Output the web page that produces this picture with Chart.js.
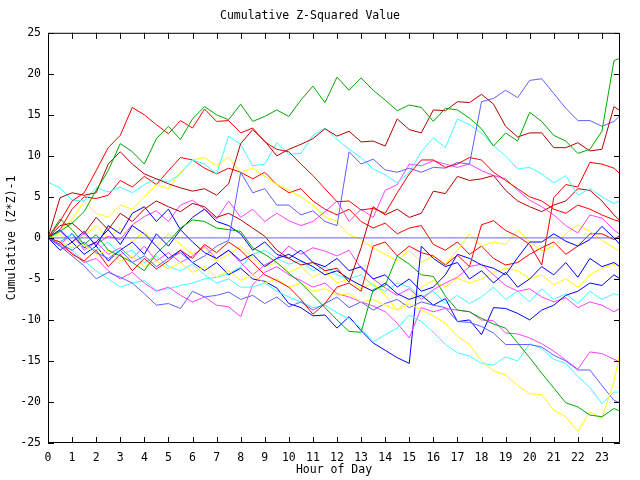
<!DOCTYPE html>
<html lang="en">
<head>
<meta charset="UTF-8">
<title>Cumulative Z-Squared Value</title>
<script src="https://cdn.jsdelivr.net/npm/chart.js"></script>
<style>
  html, body { margin: 0; padding: 0; background: #fff; }
  canvas { display: block; }
</style>
</head>
<body>
<canvas id="zChart" width="640" height="480"></canvas>
<script>
// sample times in hours (half-hour steps, last sample 23:45)
const hours = [0,0.5,1,1.5,2,2.5,3,3.5,4,4.5,5,5.5,6,6.5,7,7.5,8,8.5,9,9.5,10,10.5,11,11.5,12,12.5,13,13.5,14,14.5,15,15.5,16,16.5,17,17.5,18,18.5,19,19.5,20,20.5,21,21.5,22,22.5,23,23.5,23.75];

const hourTicks = [0,1,2,3,4,5,6,7,8,9,10,11,12,13,14,15,16,17,18,19,20,21,22,23];
const valueTicks = [-25,-20,-15,-10,-5,0,5,10,15,20,25];

// cumulative (z*z)-1 per series
const zeroLine    = [0,0,0,0,0,0,0,0,0,0,0,0,0,0,0,0,0,0,0,0,0,0,0,0,0,0,0,0,0,0,0,0,0,0,0,0,0,0,0,0,0,0,0,0,0,0,0,0,0];
const greenTop    = [0,0.8,1.8,3.2,5.8,8.2,11.5,10.5,9.0,12.1,13.6,12.0,14.5,16.0,15.0,14.4,16.3,14.2,14.8,15.6,14.8,16.8,18.5,16.5,19.6,18.0,19.5,18.0,16.8,15.5,16.2,15.9,14.2,15.8,15.6,14.6,13.3,11.2,12.8,11.8,15.3,14.2,12.5,11.8,10.3,10.8,13.0,21.6,21.9];
const redUpper    = [0,2.0,4.5,5.5,8.2,11.0,12.5,15.9,15.0,13.8,12.7,14.3,13.4,15.7,14.2,14.3,12.8,13.4,11.7,10.8,10.5,9.0,7.6,6.0,4.4,4.5,3.4,3.6,3.0,5.5,7.8,9.5,9.5,8.6,9.0,9.8,9.5,8.0,7.0,6.0,5.0,4.5,3.5,3.0,4.0,3.5,2.8,2.2,2.0];
const darkRedTop  = [0,4.9,5.5,5.2,5.5,9.0,10.5,9.0,7.8,7.2,6.6,6.1,5.7,6.0,5.2,6.6,11.5,13.2,11.8,10.0,10.8,11.4,12.1,13.3,12.4,13.0,11.7,11.8,11.2,14.5,13.2,12.8,15.6,15.5,16.6,16.5,17.5,16.3,13.6,12.3,12.8,12.8,11.0,11.0,11.6,10.6,10.8,16.0,15.5];
const blueTop     = [0,-0.8,-1.5,-0.5,-1.8,-2.5,-1.5,-3.0,-2.2,-3.5,-2.5,-1.8,-3.0,-2.2,-1.0,-0.3,8.0,5.5,6.0,4.0,4.0,2.8,3.3,2.0,1.5,10.5,9.0,9.6,8.3,8.0,8.5,8.0,8.6,8.5,9.2,9.0,16.6,17.0,18.0,17.1,19.2,19.4,17.6,15.8,14.3,14.3,13.6,14.2,14.9];
const cyanTop     = [6.8,6.1,4.6,4.5,6.1,5.6,6.2,5.5,6.5,7.2,6.8,7.8,9.5,9.0,7.8,12.4,11.4,8.8,9.0,11.6,10.2,10.3,12.5,13.4,12.0,10.8,9.8,8.4,7.7,6.7,8.0,10.5,12.2,11.0,14.5,13.8,12.8,11.2,10.0,8.4,8.6,7.8,6.7,7.6,5.2,6.0,5.0,4.2,4.5];
const redMid      = [0,-0.5,-2.0,-2.8,-1.5,-3.5,-2.0,-4.0,-2.5,-3.8,-2.8,-1.5,-2.5,-0.8,-1.8,-0.5,-1.5,-3.0,-4.5,-5.2,-6.0,-7.5,-9.3,-8.0,-6.0,-5.5,-6.5,-1.0,-0.5,-2.2,-1.0,-1.8,-2.2,-3.3,-2.1,-3.5,1.6,2.1,0.9,0.2,-0.8,-3.3,4.9,6.5,6.2,9.2,9.0,8.5,7.8];
const darkRedMid  = [0,1.5,1.8,0.5,2.5,1.0,3.0,2.0,3.5,4.5,3.8,3.2,4.2,3.8,2.5,3.0,2.2,1.2,0.2,-1.5,-2.5,-3.3,-3.0,-4.0,-3.7,-5.4,-1.2,3.8,2.8,3.5,2.5,3.0,5.7,5.4,7.5,7.0,7.2,7.6,5.8,4.5,3.8,3.2,4.0,4.5,6.0,5.8,4.5,2.8,2.1];
const greenLow    = [0,2.3,1.0,-0.8,0.4,-1.5,-2.2,-3.0,-4.0,-1.9,-0.5,1.2,2.2,2.0,1.2,1.0,0.8,-1.2,-2.0,-3.0,-4.3,-5.5,-7.0,-8.5,-10.0,-11.4,-11.5,-6.3,-5.8,-2.2,-3.2,-4.5,-4.7,-7.1,-8.8,-9.0,-9.8,-10.5,-11.0,-12.8,-14.6,-16.5,-18.3,-20.1,-20.6,-21.6,-21.8,-20.8,-21.1];
const yellowLow   = [0,-0.5,-1.2,-0.8,-2.0,-1.5,-2.8,-2.2,-3.5,-2.8,-3.8,-3.0,-4.2,-3.5,-4.8,-4.0,-5.2,-4.5,-5.5,-5.0,-6.0,-5.5,-6.5,-6.2,-7.0,-6.8,-7.8,-7.5,-8.2,-8.8,-8.0,-8.8,-9.5,-10.4,-12.0,-13.0,-15.0,-16.2,-16.7,-18.0,-19.0,-19.1,-21.0,-21.8,-23.6,-21.2,-22.0,-17.5,-14.0];
const blueLow     = [0,-1.0,-2.2,-3.4,-5.0,-4.2,-4.8,-5.5,-6.8,-8.2,-8.0,-8.6,-6.5,-7.2,-7.0,-6.6,-7.5,-7.0,-8.0,-7.2,-8.4,-7.8,-8.8,-8.0,-7.2,-8.5,-7.8,-8.8,-8.0,-7.5,-8.5,-7.8,-8.2,-8.5,-10.2,-10.3,-10.8,-11.6,-13.0,-13.0,-13.0,-13.3,-14.3,-15.0,-16.1,-16.1,-18.0,-19.8,-20.1];
const cyanLow     = [0,-0.5,0.5,-0.8,-1.5,-0.5,-2.0,-1.5,-3.0,-2.2,-3.5,-4.0,-3.2,-4.5,-5.5,-5.0,-6.0,-6.0,-5.5,-6.5,-7.2,-7.8,-8.5,-8.2,-9.1,-9.9,-11.0,-12.7,-11.8,-11.0,-9.4,-10.2,-11.5,-13.0,-14.0,-14.4,-15.3,-15.5,-14.5,-15.0,-12.9,-13.5,-14.8,-15.3,-16.9,-18.2,-20.2,-18.8,-18.8];
const magentaLow  = [0,-1.0,-1.8,-3.0,-2.5,-4.0,-5.0,-4.2,-5.5,-6.5,-6.0,-7.0,-7.8,-7.2,-8.2,-8.4,-9.6,-5.7,-4.2,-3.5,-4.5,-5.2,-6.0,-5.5,-6.8,-7.2,-7.8,-8.3,-9.0,-10.4,-12.2,-8.5,-9.0,-8.6,-8.8,-9.0,-10.0,-10.1,-11.6,-11.7,-12.2,-12.9,-13.8,-14.9,-16.0,-13.9,-14.1,-14.8,-15.1];
const navyDip     = [0,-0.5,0.5,-1.2,-0.5,1.0,-0.8,1.5,0.5,-1.0,-2.5,-1.5,-3.0,-4.0,-3.0,-4.5,-3.7,-5.0,-5.3,-6.1,-8.0,-8.5,-9.5,-9.4,-11.0,-9.6,-11.3,-12.8,-13.7,-14.6,-15.3,-1.0,-2.5,-3.5,-3.0,-5.0,-4.0,-5.5,-4.2,-6.0,-5.0,-3.5,-4.5,-3.0,-4.8,-2.5,-3.5,-3.0,-3.5];
const navyMid     = [0,1.0,-0.5,0.8,-1.0,1.5,0.5,3.0,3.8,2.0,3.5,1.0,2.5,3.5,2.0,1.5,0.5,-1.5,-0.5,-2.0,-2.5,-1.5,-3.0,-3.5,-2.5,-4.0,-3.5,-5.0,-4.5,-6.0,-5.0,-6.5,-6.0,-4.5,-2.0,-2.5,-3.3,-3.7,-4.5,-2.4,-0.5,-0.5,0.5,-0.4,-1.0,-0.2,1.4,0.0,-0.8];
const navyLow     = [0,-1.5,-0.5,-2.0,-1.0,-2.8,-1.5,-0.5,-2.0,0.5,-1.0,1.0,-0.5,-1.8,-2.5,-1.5,-2.8,-2.0,-3.5,-2.5,-2.0,-2.8,-3.5,-4.5,-4.0,-5.0,-5.8,-6.5,-5.5,-6.8,-7.5,-7.0,-8.2,-7.4,-10.2,-10.0,-11.8,-8.5,-8.6,-9.2,-10.0,-8.8,-8.2,-7.0,-6.5,-5.5,-5.8,-4.5,-5.0];
const magentaTop  = [0,0.8,-0.5,0.5,-0.8,0.2,-0.2,1.6,2.6,3.3,2.0,4.0,4.6,3.5,2.3,4.5,2.5,3.5,2.0,3.0,2.1,1.5,2.0,3.2,4.5,2.0,3.5,2.5,5.8,6.5,9.0,8.8,9.4,9.0,8.6,9.0,8.2,7.6,7.2,5.8,4.6,3.8,2.8,1.5,0.6,2.8,2.4,1.0,0.4];
const magentaMid  = [0,-0.8,0.5,-1.5,-0.5,-2.0,-1.2,-2.5,-1.0,-2.8,-1.8,-3.0,-2.2,-1.0,-2.5,-1.5,-3.0,-4.5,-3.3,-2.5,-1.0,-2.0,-1.2,-1.6,-2.2,-1.5,-3.7,-5.0,-6.1,-7.0,-6.2,-7.5,-6.3,-5.5,-4.8,-3.5,-3.2,-4.5,-5.8,-6.5,-6.2,-7.2,-7.8,-7.3,-8.5,-7.8,-8.2,-9.0,-8.6];
const yellowTop   = [0,1.0,2.2,4.5,3.0,2.5,4.0,3.5,5.0,6.5,6.0,8.0,9.5,9.8,8.8,9.8,8.0,8.5,7.5,6.5,5.8,5.0,4.0,2.6,2.0,0.4,-0.2,-1.2,-2.0,-2.8,-1.5,-3.0,-2.2,-3.2,-1.5,0.5,-1.0,-0.5,-0.8,1.0,-0.5,-1.6,-1.0,0.5,1.6,0.8,-0.3,-1.2,-1.6];
const yellowMid   = [0,0.5,-0.8,0.2,1.5,0.0,1.2,-0.5,0.8,-1.0,0.5,-0.8,-2.0,-1.2,-2.8,-2.0,-1.0,-2.5,-3.5,-3.0,-4.2,-3.5,-4.8,-4.0,-5.5,-5.0,-6.2,-5.5,-7.0,-8.8,-7.5,-6.0,-5.2,-6.0,-4.9,-5.5,-5.0,-4.2,-3.7,-4.0,-5.0,-4.5,-5.7,-5.0,-6.0,-4.5,-3.7,-3.2,-3.5];
const cyanMid     = [0,-0.5,-1.5,-2.8,-4.0,-5.0,-6.0,-5.5,-5.2,-6.4,-6.2,-5.8,-5.5,-5.0,-4.8,-4.4,-3.5,-2.0,-1.5,-2.5,-3.2,-2.8,-4.0,-3.5,-4.5,-5.0,-4.5,-5.8,-6.5,-5.5,-6.0,-7.2,-6.5,-8.0,-7.0,-8.0,-7.2,-6.0,-7.5,-6.5,-7.8,-6.2,-7.5,-6.8,-8.0,-6.5,-7.5,-6.8,-7.0];
const redLow      = [0,1.0,3.5,5.0,4.8,5.2,7.0,6.2,7.5,6.5,8.2,9.8,9.5,8.5,7.8,8.5,8.0,7.2,8.0,6.5,5.5,6.0,4.5,3.5,2.8,3.5,2.0,1.2,1.8,0.5,1.2,1.5,-0.8,-1.5,-0.5,-2.0,-1.0,-2.5,-3.3,-3.0,-2.0,-1.2,-0.5,-2.0,-1.0,0.5,0.5,-0.2,0.3];

const RED = '#ff0000', DKRED = '#b80000', GREEN = '#00a800', NAVY = '#0000ff',
      BLUE = '#6060ff', CYAN = '#40ffff', MAGENTA = '#ff40ff', YELLOW = '#ffff00';

const seriesList = [
  [zeroLine, BLUE],
  [greenTop, GREEN],
  [redUpper, RED],
  [darkRedTop, DKRED],
  [blueTop, BLUE],
  [cyanTop, CYAN],
  [redMid, RED],
  [darkRedMid, DKRED],
  [greenLow, GREEN],
  [yellowLow, YELLOW],
  [blueLow, BLUE],
  [cyanLow, CYAN],
  [magentaLow, MAGENTA],
  [navyDip, NAVY],
  [navyMid, NAVY],
  [navyLow, NAVY],
  [magentaTop, MAGENTA],
  [magentaMid, MAGENTA],
  [yellowTop, YELLOW],
  [yellowMid, YELLOW],
  [cyanMid, CYAN],
  [redLow, RED]
];

const datasets = seriesList.map(([vals, color]) => ({
  data: hours.map((h, i) => ({ x: h, y: vals[i] })),
  borderColor: color,
  borderWidth: 1,
  pointRadius: 0,
  tension: 0,
  fill: false
}));

// gnuplot style frame with inward ticks on all four sides
const frameTicks = {
  id: 'frameTicks',
  afterDatasetsDraw(chart) {
    const { ctx, chartArea: a, scales: { x, y } } = chart;
    ctx.save();
    ctx.strokeStyle = '#000';
    ctx.lineWidth = 1;
    ctx.beginPath();
    ctx.rect(a.left + 0.5, a.top + 0.5, a.right - a.left - 1, a.bottom - a.top - 1);
    hourTicks.forEach(v => {
      const px = Math.round(x.getPixelForValue(v)) + 0.5;
      ctx.moveTo(px, a.bottom); ctx.lineTo(px, a.bottom - 6);
      ctx.moveTo(px, a.top); ctx.lineTo(px, a.top + 6);
    });
    valueTicks.forEach(v => {
      const py = Math.round(y.getPixelForValue(v)) + 0.5;
      ctx.moveTo(a.left, py); ctx.lineTo(a.left + 6, py);
      ctx.moveTo(a.right, py); ctx.lineTo(a.right - 6, py);
    });
    ctx.stroke();
    ctx.restore();
  }
};

Chart.defaults.font.family = "'DejaVu Sans Mono', monospace";
Chart.defaults.font.size = 11.5;
Chart.defaults.color = '#000';

new Chart(document.getElementById('zChart'), {
  type: 'line',
  data: { datasets },
  options: {
    responsive: false,
    animation: false,
    layout: { padding: { left: 0, right: 20, top: 0, bottom: 0 } },
    plugins: {
      legend: { display: false },
      tooltip: { enabled: false },
      title: {
        display: true,
        text: 'Cumulative Z-Squared Value',
        font: { size: 11.5, weight: 'normal' },
        color: '#000',
        padding: { top: 9, bottom: 10 }
      }
    },
    scales: {
      x: {
        type: 'linear',
        min: 0,
        max: 23.75,
        afterBuildTicks: s => { s.ticks = hourTicks.map(v => ({ value: v })); },
        afterFit: s => { s.height = 37; },
        grid: { display: false, drawTicks: false },
        border: { display: false },
        ticks: { padding: 8, maxRotation: 0, autoSkip: false, color: '#000' },
        title: { display: true, text: 'Hour of Day', color: '#000', padding: { top: 0, bottom: 3 } }
      },
      y: {
        min: -25,
        max: 25,
        afterBuildTicks: s => { s.ticks = valueTicks.map(v => ({ value: v })); },
        afterFit: s => { s.width = 48; },
        grid: { display: false, drawTicks: false },
        border: { display: false },
        ticks: { padding: 7, color: '#000' },
        title: { display: true, text: 'Cumulative (Z*Z)-1', color: '#000', padding: { top: 5, bottom: 0 } }
      }
    }
  },
  plugins: [frameTicks]
});
</script>
</body>
</html>
